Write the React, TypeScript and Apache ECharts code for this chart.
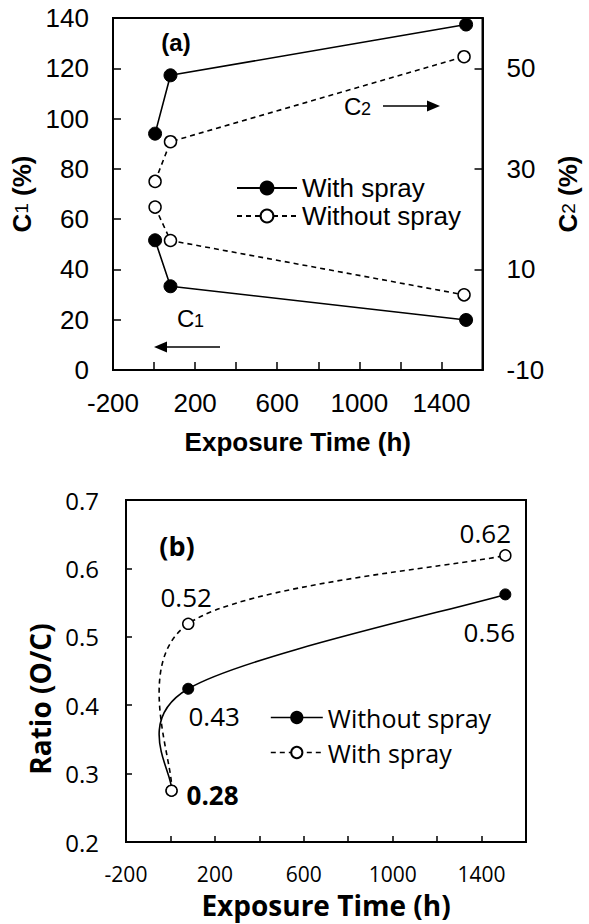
import React, { useEffect, useRef } from 'react';
import * as echarts from 'echarts';

// ---------- data: chart (a) ----------
const hoursWithA = [5, 80, 1520];
const hoursWithoutA = [5, 80, 1510];
const c1With = [51.6, 33.3, 19.9];
const c2With = [37.0, 48.6, 58.7];
const c1Without = [64.8, 51.5, 29.9];
const c2Without = [27.5, 35.4, 52.3];
const xLabelsShown = [-200, 200, 600, 1000, 1400];
const c2LabelsShown = [-10, 10, 30, 50];

// ---------- data: chart (b) ----------
const hoursB = [5, 80, 1507];
const ratioWithout = [0.275, 0.424, 0.562];
const ratioWith = [0.275, 0.519, 0.619];
const ratioWithoutLabels = ['', '0.43', '0.56'];
const ratioWithLabels = ['0.28', '0.52', '0.62'];
const ratioWithoutOffsets = [[0, 0], [26, 27], [-16, 38]];
const ratioWithOffsets = [[41, 4], [-2, -27], [-20, -22]];

const FA = '"Liberation Sans", Arial, sans-serif';
const FB = '"Open Sans", sans-serif';
const BLACK = '#000';

function pairs(xs: number[], ys: number[]) {
  return xs.map((x, i) => [x, ys[i]]);
}

// Excel-like smoothed curve through the data points (Catmull-Rom -> Bezier), drawn in pixel space
function smoothCurveSeries(xs: number[], ys: number[], dash: number[] | null): any {
  return {
    type: 'custom',
    name: 'curve',
    coordinateSystem: 'cartesian2d',
    silent: true,
    z: 1,
    data: pairs(xs, ys),
    encode: { x: 0, y: 1 },
    renderItem: (params: any, api: any) => {
      if (params.dataIndex !== 0) return null;
      const p = xs.map((x, i) => api.coord([x, ys[i]]));
      let d = `M${p[0][0]},${p[0][1]}`;
      for (let i = 0; i < p.length - 1; i++) {
        const p0 = p[Math.max(i - 1, 0)];
        const p1 = p[i];
        const p2 = p[i + 1];
        const p3 = p[Math.min(i + 2, p.length - 1)];
        const c1x = p1[0] + (p2[0] - p0[0]) / 6;
        const c1y = p1[1] + (p2[1] - p0[1]) / 6;
        const c2x = p2[0] - (p3[0] - p1[0]) / 6;
        const c2y = p2[1] - (p3[1] - p1[1]) / 6;
        d += ` C${c1x},${c1y} ${c2x},${c2y} ${p2[0]},${p2[1]}`;
      }
      return {
        type: 'path',
        shape: { pathData: d },
        style: { fill: 'none', stroke: BLACK, lineWidth: 1.6, lineDash: dash || undefined },
      };
    },
  };
}

function optionA(): any {
  const axisLine = { show: true, onZero: false, lineStyle: { color: BLACK, width: 2 } };
  const tick = { show: true, inside: true, length: 8, lineStyle: { color: BLACK, width: 1.5 } };
  const lbl = { color: BLACK, fontSize: 26, fontFamily: FA };
  const filled = { color: BLACK, borderColor: BLACK, borderWidth: 1 };
  const open = { color: '#fff', borderColor: BLACK, borderWidth: 1.5 };
  const solid = { color: BLACK, width: 1.6, type: 'solid' };
  const dashed = { color: BLACK, width: 1.6, type: [5, 4] };
  const nameRich = {
    b: { fontSize: 26, fontWeight: 'bold', color: BLACK, fontFamily: FA, lineHeight: 28 },
    s: { fontSize: 19, color: BLACK, fontFamily: FA, lineHeight: 28 },
  };
  return {
    animation: false,
    grid: { left: 113, right: 95, top: 18, bottom: 87, show: true, borderColor: BLACK, borderWidth: 2 },
    xAxis: {
      type: 'value', min: -200, max: 1600, interval: 200,
      axisLine, axisTick: tick, splitLine: { show: false },
      axisLabel: { ...lbl, margin: 20, formatter: (v: number) => (xLabelsShown.includes(v) ? String(v) : '') },
      name: 'Exposure Time (h)', nameLocation: 'middle', nameGap: 59,
      nameTextStyle: { fontSize: 26, fontWeight: 'bold', color: BLACK, fontFamily: FA },
    },
    yAxis: [
      {
        type: 'value', min: 0, max: 140, interval: 20, position: 'left',
        axisLine, axisTick: tick, splitLine: { show: false },
        axisLabel: { ...lbl, margin: 24 },
        name: '{b|C}{s|1}{b| (%)}', nameLocation: 'middle', nameGap: 62, nameRotate: 90,
        nameTextStyle: { rich: nameRich },
      },
      {
        type: 'value', min: -10, max: 60, interval: 20, position: 'right',
        axisLine, axisTick: tick, splitLine: { show: false },
        axisLabel: { ...lbl, margin: 24, formatter: (v: number) => (c2LabelsShown.includes(v) ? String(v) : '') },
        name: '{b|C}{s|2}{b| (%)}', nameLocation: 'middle', nameGap: 66, nameRotate: 90,
        nameTextStyle: { rich: nameRich },
      },
    ],
    legend: {
      orient: 'vertical', left: 231, top: 170, itemWidth: 60, itemHeight: 16, itemGap: 2,
      textStyle: { fontSize: 26, color: BLACK, fontFamily: FA },
      data: ['With spray', 'Without spray'],
      selectedMode: false,
    },
    series: [
      { name: 'With spray', type: 'line', yAxisIndex: 0, data: pairs(hoursWithA, c1With), symbol: 'circle', symbolSize: 13, itemStyle: filled, lineStyle: solid },
      { name: 'With spray', type: 'line', yAxisIndex: 1, data: pairs(hoursWithA, c2With), symbol: 'circle', symbolSize: 13, itemStyle: filled, lineStyle: solid },
      { name: 'Without spray', type: 'line', yAxisIndex: 0, data: pairs(hoursWithoutA, c1Without), symbol: 'circle', symbolSize: 12, itemStyle: open, lineStyle: dashed },
      { name: 'Without spray', type: 'line', yAxisIndex: 1, data: pairs(hoursWithoutA, c2Without), symbol: 'circle', symbolSize: 12, itemStyle: open, lineStyle: dashed },
    ],
    graphic: [
      { type: 'text', x: 176, y: 42, style: { text: '(a)', fontSize: 24, fontWeight: 'bold', fontFamily: FA, fill: BLACK, align: 'center', verticalAlign: 'middle' } },
      { type: 'text', x: 344, y: 118, style: { text: 'C', fontSize: 24, fontFamily: FA, fill: BLACK, align: 'left', verticalAlign: 'bottom' } },
      { type: 'text', x: 361, y: 118, style: { text: '2', fontSize: 18, fontFamily: FA, fill: BLACK, align: 'left', verticalAlign: 'bottom' } },
      { type: 'line', shape: { x1: 383, y1: 106, x2: 428, y2: 106 }, style: { stroke: BLACK, lineWidth: 1.6 } },
      { type: 'polygon', shape: { points: [[427, 100.5], [440, 106], [427, 111.5]] }, style: { fill: BLACK } },
      { type: 'text', x: 177, y: 330, style: { text: 'C', fontSize: 24, fontFamily: FA, fill: BLACK, align: 'left', verticalAlign: 'bottom' } },
      { type: 'text', x: 194, y: 330, style: { text: '1', fontSize: 18, fontFamily: FA, fill: BLACK, align: 'left', verticalAlign: 'bottom' } },
      { type: 'line', shape: { x1: 166, y1: 347, x2: 220, y2: 347 }, style: { stroke: BLACK, lineWidth: 1.6 } },
      { type: 'polygon', shape: { points: [[167, 341.5], [154, 347], [167, 352.5]] }, style: { fill: BLACK } },
    ],
  };
}

function optionB(): any {
  const axisLine = { show: true, onZero: false, lineStyle: { color: BLACK, width: 2 } };
  const tick = { show: true, inside: true, length: 6, lineStyle: { color: BLACK, width: 1.5 } };
  const filled = { color: BLACK, borderColor: BLACK, borderWidth: 1 };
  const open = { color: '#fff', borderColor: BLACK, borderWidth: 1.5 };
  const solidHidden = { color: BLACK, width: 1.6, type: 'solid', opacity: 0 };
  const dashedHidden = { color: BLACK, width: 1.6, type: [5, 4], opacity: 0 };
  const lblStyle = { fontSize: 26, color: BLACK, fontFamily: FB };
  const mk = (xs: number[], ys: number[], labels: string[], offs: number[][], boldIdx: number) =>
    xs.map((x, i) => ({
      value: [x, ys[i]],
      label: {
        show: labels[i] !== '',
        position: 'inside',
        offset: offs[i],
        formatter: labels[i],
        ...lblStyle,
        fontWeight: i === boldIdx ? 'bold' : 'normal',
      },
    }));
  return {
    animation: false,
    grid: { left: 126, right: 63, top: 40, bottom: 80, show: true, borderColor: BLACK, borderWidth: 2 },
    xAxis: {
      type: 'value', min: -200, max: 1600, interval: 200,
      axisLine, axisTick: tick, splitLine: { show: false },
      axisLabel: { color: BLACK, fontSize: 21, fontFamily: FB, margin: 21, formatter: (v: number) => (xLabelsShown.includes(v) ? String(v) : '') },
      name: 'Exposure Time (h)', nameLocation: 'middle', nameGap: 49,
      nameTextStyle: { fontSize: 28, fontWeight: 'bold', color: BLACK, fontFamily: FB },
    },
    yAxis: {
      type: 'value', min: 0.2, max: 0.7, interval: 0.1,
      axisLine, axisTick: tick, splitLine: { show: false },
      axisLabel: { color: BLACK, fontSize: 24, fontFamily: FB, margin: 27, formatter: (v: number) => v.toFixed(1) },
      name: 'Ratio (O/C)', nameLocation: 'middle', nameGap: 53, nameRotate: 90,
      nameTextStyle: { fontSize: 28, fontWeight: 'bold', color: BLACK, fontFamily: FB, padding: [0, 56, 0, 0] },
    },
    legend: {
      orient: 'vertical', left: 265, top: 240, itemWidth: 52, itemHeight: 14, itemGap: 10,
      textStyle: { fontSize: 25, color: BLACK, fontFamily: FB },
      lineStyle: { opacity: 1, width: 1.6 },
      data: ['Without spray', 'With spray'],
      selectedMode: false,
    },
    series: [
      smoothCurveSeries(hoursB, ratioWithout, null),
      smoothCurveSeries(hoursB, ratioWith, [5, 4]),
      { name: 'Without spray', type: 'line', data: mk(hoursB, ratioWithout, ratioWithoutLabels, ratioWithoutOffsets, -1), symbol: 'circle', symbolSize: 11, itemStyle: filled, lineStyle: solidHidden, z: 2 },
      { name: 'With spray', type: 'line', data: mk(hoursB, ratioWith, ratioWithLabels, ratioWithOffsets, 0), symbol: 'circle', symbolSize: 11, itemStyle: open, lineStyle: dashedHidden, z: 3 },
    ],
    graphic: [
      { type: 'text', x: 177, y: 85, style: { text: '(b)', fontSize: 27, fontWeight: 'bold', fontFamily: FB, fill: BLACK, align: 'center', verticalAlign: 'middle' } },
    ],
  };
}

export default function App() {
  const refA = useRef<HTMLDivElement>(null);
  const refB = useRef<HTMLDivElement>(null);
  useEffect(() => {
    const a = echarts.init(refA.current!, null, { renderer: 'svg' });
    const b = echarts.init(refB.current!, null, { renderer: 'svg' });
    a.setOption(optionA());
    b.setOption(optionB());
    return () => {
      a.dispose();
      b.dispose();
    };
  }, []);
  return (
    <div style={{ position: 'absolute', left: 0, top: 0, width: 589, height: 924, background: '#fff' }}>
      <div ref={refA} style={{ position: 'absolute', left: 0, top: 0, width: 589, height: 460 }} />
      <div ref={refB} style={{ position: 'absolute', left: 0, top: 460, width: 589, height: 464 }} />
    </div>
  );
}
